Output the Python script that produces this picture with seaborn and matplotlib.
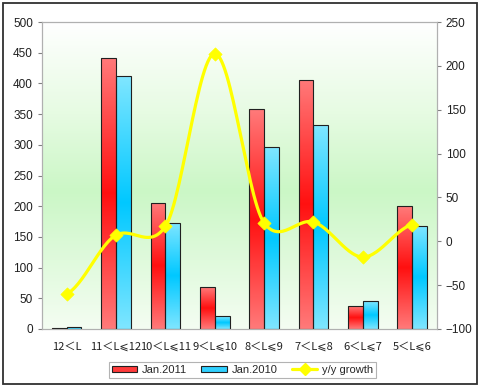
import numpy as np
import pandas as pd
import matplotlib
matplotlib.use("Agg")
import matplotlib.pyplot as plt
import seaborn as sns
from matplotlib.colors import LinearSegmentedColormap
from matplotlib.patches import Patch, Rectangle
from matplotlib.lines import Line2D

# --------------------------------------------------
# data
# --------------------------------------------------
categories = ["12＜L", "11＜L⩽12", "10＜L⩽11", "9＜L⩽10",
              "8＜L⩽9", "7＜L⩽8", "6＜L⩽7", "5＜L⩽6"]
jan_2011 = [1, 442, 206, 68, 358, 406, 37, 200]
jan_2010 = [3, 412, 173, 21, 296, 332, 45, 168]
growth = [-60, 7, 17, 214, 21, 22, -18, 19]
series_names = ["Jan.2011", "Jan.2010"]

df = pd.DataFrame({
    "cat": categories * 2,
    "value": jan_2011 + jan_2010,
    "series": [series_names[0]] * 8 + [series_names[1]] * 8,
})

sns.set_style("white")
plt.rcParams["font.family"] = ["Liberation Sans", "DejaVu Sans"]

fig = plt.figure(figsize=(4.8, 3.87), dpi=100)
ax = fig.add_axes([0.0875, 0.150, 0.8225, 0.793])

# background gradient of the plot area (white -> green -> pale)
bg_cmap = LinearSegmentedColormap.from_list(
    "bg", [(0, "#f4fdf2"), (0.45, "#cbf7c6"), (0.7, "#e6fbe2"), (1, "#ffffff")])
grad = np.linspace(0, 1, 256).reshape(-1, 1)
ax.imshow(grad, cmap=bg_cmap, aspect="auto", extent=[0, 1, 0, 1],
          transform=ax.transAxes, origin="lower", zorder=0)

sns.barplot(data=df, x="cat", y="value", hue="series", order=categories,
            hue_order=series_names, palette=["#ff3030", "#20d0ff"],
            width=0.6, edgecolor="#202020", linewidth=0.8,
            legend=False, ax=ax, zorder=2)

red_cmap = LinearSegmentedColormap.from_list(
    "r", [(0, "#ff7a7a"), (0.5, "#ff1010"), (1, "#ff7a7a")])
blue_cmap = LinearSegmentedColormap.from_list(
    "b", [(0, "#7fe6ff"), (0.5, "#00c8ff"), (1, "#7fe6ff")])

for i, p in enumerate(ax.patches):
    cmap = red_cmap if i < len(categories) else blue_cmap
    x0, y0 = p.get_x(), p.get_y()
    w, h = p.get_width(), p.get_height()
    if h <= 0:
        continue
    im = ax.imshow(grad, cmap=cmap, aspect="auto", origin="lower",
                   extent=[x0, x0 + w, y0, y0 + h], zorder=2.5)
    im.set_clip_path(p)
    p.set_facecolor("none")
    p.set_zorder(3)

ax.set_xlim(-0.5, 7.5)
ax.set_ylim(0, 500)
ax.set_yticks(np.arange(0, 501, 50))
ax.set_xlabel("")
ax.set_ylabel("")
ax.set_xticks(range(len(categories)))
ax.set_xticklabels(categories, family=["Noto Sans CJK SC", "DejaVu Sans"],
                   fontsize=8, color="#202020")
ax.set_xticks(np.arange(-0.5, 8, 1), minor=True)
ax.tick_params(axis="x", which="major", length=0, pad=9)
ax.tick_params(axis="x", which="minor", length=4, color="#a0a0a0",
               direction="in")
ax.tick_params(axis="y", length=3, color="#808080", labelsize=8.5,
               labelcolor="#202020")
for s in ax.spines.values():
    s.set_color("#b0b0b0")
    s.set_linewidth(0.8)

# growth line on secondary axis (smoothed like the original)
ax2 = ax.twinx()
xs = np.arange(len(growth))
ys = np.array(growth, dtype=float)
tension = 0.8
pts_x, pts_y = [], []
pad_y = np.concatenate([[ys[0]], ys, [ys[-1]]])
pad_x = np.concatenate([[xs[0] - 1], xs, [xs[-1] + 1]])
t = np.linspace(0, 1, 30)
h00 = 2 * t ** 3 - 3 * t ** 2 + 1
h10 = t ** 3 - 2 * t ** 2 + t
h01 = -2 * t ** 3 + 3 * t ** 2
h11 = t ** 3 - t ** 2
for k in range(1, len(pad_y) - 2):
    p0, p1, p2, p3 = pad_y[k - 1:k + 3]
    q0, q1, q2, q3 = pad_x[k - 1:k + 3]
    m1 = tension * (p2 - p0) / 2
    m2 = tension * (p3 - p1) / 2
    n1 = (q2 - q0) / 2
    n2 = (q3 - q1) / 2
    pts_y.extend(h00 * p1 + h10 * m1 + h01 * p2 + h11 * m2)
    pts_x.extend(h00 * q1 + h10 * n1 + h01 * q2 + h11 * n2)
ax2.plot(pts_x, pts_y, color="#ffff00", lw=2.3, solid_capstyle="round", zorder=5)
sns.scatterplot(x=xs, y=ys, marker="D", s=45, color="#ffff00",
                edgecolor="#ffff00", ax=ax2, zorder=6)
ax2.set_ylim(-100, 250)
ax2.set_yticks(np.arange(-100, 251, 50))
ax2.tick_params(axis="y", length=3, color="#808080", labelsize=8.5,
                labelcolor="#202020")
for s in ax2.spines.values():
    s.set_color("#b0b0b0")
    s.set_linewidth(0.8)
ax2.set_xlim(-0.5, 7.5)

# legend
handles = [
    Patch(facecolor="#ff3b3b", edgecolor="#202020", lw=0.8, label="Jan.2011"),
    Patch(facecolor="#30d0ff", edgecolor="#202020", lw=0.8, label="Jan.2010"),
    Line2D([], [], color="#ffff00", lw=2.3, marker="D", markersize=6,
           label="y/y growth"),
]
leg = fig.legend(handles=handles, loc="lower center", ncol=3,
                 bbox_to_anchor=(0.505, 0.008), fontsize=8, frameon=True,
                 fancybox=False, edgecolor="#a0a0a0", handlelength=2.3,
                 handleheight=0.55, columnspacing=1.3, borderpad=0.3,
                 handletextpad=0.4)
leg.get_frame().set_linewidth(0.8)

# outer frame
fig.patches.append(Rectangle((0.006, 0.008), 0.988, 0.984, transform=fig.transFigure,
                             fill=False, edgecolor="#303030", lw=1.3))

fig.savefig("out.png", dpi=100)
